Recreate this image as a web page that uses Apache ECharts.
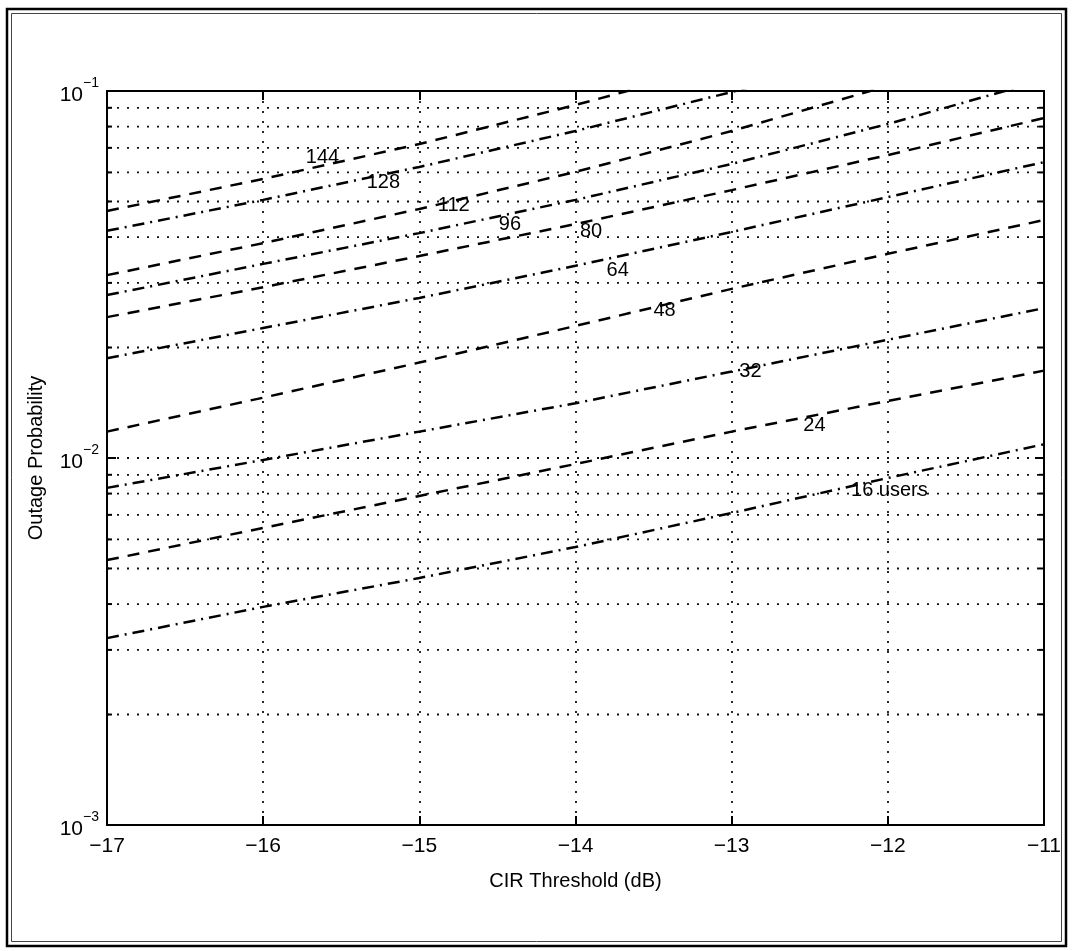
<!DOCTYPE html>
<html>
<head>
<meta charset="utf-8">
<title>Outage Probability vs CIR Threshold</title>
<script src="https://cdn.jsdelivr.net/npm/echarts@6/dist/echarts.min.js"></script>
<style>
html, body { margin: 0; padding: 0; background: #fff; }
#chart { width: 1073px; height: 951px; }
</style>
</head>
<body>
<div id="chart"></div>
<script>
"use strict";
// CIR threshold (dB), one point per grid line
var cirThreshold = [-17, -16, -15, -14, -13, -12, -11];

// outage probability, one array per number of users
var users144 = [0.0471, 0.0576, 0.0717, 0.0916, 0.1192];
var users128 = [0.0416, 0.0505, 0.0621, 0.0778, 0.0994, 0.1285];
var users112 = [0.0315, 0.0385, 0.0477, 0.0602, 0.0778, 0.1032, 0.1403];
var users96  = [0.0278, 0.0338, 0.0410, 0.0505, 0.0633, 0.0813, 0.1072];
var users80  = [0.0242, 0.0292, 0.0355, 0.0434, 0.0537, 0.0669, 0.0844];
var users64  = [0.0187, 0.0226, 0.0273, 0.0334, 0.0413, 0.0514, 0.0640];
var users48  = [0.0118, 0.0146, 0.0182, 0.0229, 0.0289, 0.0360, 0.0445];
var users32  = [0.00829, 0.00988, 0.0118, 0.0141, 0.0172, 0.0210, 0.0256];
var users24  = [0.00527, 0.00645, 0.00788, 0.00963, 0.0118, 0.0143, 0.0173];
var users16  = [0.00323, 0.00393, 0.00471, 0.00572, 0.00708, 0.00882, 0.0109];

var curveValues = [users144, users128, users112, users96, users80,
                   users64, users48, users32, users24, users16];

// in-plot labels (text, position in data units)
var labelText = ['144', '128', '112', '96', '80', '64', '48', '32', '24', '16 users'];
var labelX = [-15.62, -15.23, -14.78, -14.42, -13.90, -13.73, -13.43, -12.88, -12.47, -11.99];
var labelY = [0.0657, 0.0562, 0.0489, 0.0434, 0.0413, 0.0325, 0.0252, 0.0172, 0.0123, 0.00818];

// dotted horizontal grid at the minor decades
var yMinorGrid = [0.002, 0.003, 0.004, 0.005, 0.006, 0.007, 0.008, 0.009,
                  0.02, 0.03, 0.04, 0.05, 0.06, 0.07, 0.08, 0.09];

var FONT = '"Liberation Sans", Arial, Helvetica, sans-serif';
var DOTS = [2, 8];

function minusLabel(v) {
	return (v < 0 ? '\u2212' : '') + Math.abs(v);
}

function powerLabel(v) {
	var e = Math.round(Math.log(v) / Math.LN10);
	return '{b|10}{s|' + minusLabel(e) + '}';
}

var series = curveValues.map(function(vals, i) {
	return {
		type: 'line',
		name: labelText[i],
		data: vals.map(function(v, k) { return [cirThreshold[k], v]; }),
		showSymbol: false,
		symbol: 'none',
		clip: true,
		z: 4,
		lineStyle: {
			color: '#000',
			width: 2.5,
			type: i % 2 === 0 ? [12, 9] : [12, 6, 2, 6]
		}
	};
});

// minor grid lines plus their short ticks on both sides
series.push({
	type: 'custom',
	z: 1,
	silent: true,
	data: yMinorGrid.map(function(v) { return [cirThreshold[0], v]; }),
	renderItem: function(params, api) {
		var cs = params.coordSys;
		var y = api.coord([api.value(0), api.value(1)])[1];
		var x0 = cs.x, x1 = cs.x + cs.width;
		return {
			type: 'group',
			children: [{
				type: 'line',
				shape: { x1: x0, y1: y, x2: x1, y2: y },
				style: { stroke: '#111', lineWidth: 1.8, lineDash: DOTS }
			}, {
				type: 'line',
				shape: { x1: x0, y1: y, x2: x0 + 5, y2: y },
				style: { stroke: '#000', lineWidth: 2 }
			}, {
				type: 'line',
				shape: { x1: x1 - 5, y1: y, x2: x1, y2: y },
				style: { stroke: '#000', lineWidth: 2 }
			}]
		};
	}
});

// curve labels, drawn as plain text at their data position
series.push({
	type: 'custom',
	z: 5,
	silent: true,
	data: labelText.map(function(t, i) { return [labelX[i], labelY[i]]; }),
	renderItem: function(params, api) {
		var p = api.coord([api.value(0), api.value(1)]);
		return {
			type: 'text',
			x: p[0],
			y: p[1],
			style: {
				text: labelText[params.dataIndex],
				fill: '#000',
				font: '20px ' + FONT,
				align: 'center',
				verticalAlign: 'middle'
			}
		};
	}
});

var axisLine = { show: true, lineStyle: { color: '#000', width: 2 } };
var tickIn = { show: true, inside: true, length: 9, lineStyle: { color: '#000', width: 2 } };
var dotSplit = { show: true, lineStyle: { color: '#111', width: 1.8, type: DOTS } };

var option = {
	backgroundColor: '#fff',
	animation: false,
	textStyle: { fontFamily: FONT },
	grid: { left: 107, right: 29, top: 91, bottom: 126, outerBoundsMode: 'none' },
	xAxis: [{
		type: 'value',
		min: -17, max: -11, interval: 1,
		position: 'bottom',
		name: 'CIR Threshold (dB)',
		nameLocation: 'middle',
		nameGap: 46,
		nameTextStyle: { fontSize: 20, color: '#000', fontFamily: FONT },
		axisLine: axisLine,
		axisTick: tickIn,
		axisLabel: { fontSize: 21, color: '#000', margin: 11, fontFamily: FONT, formatter: minusLabel },
		splitLine: dotSplit
	}, {
		type: 'value',
		min: -17, max: -11, interval: 1,
		position: 'top',
		axisLine: axisLine,
		axisTick: tickIn,
		axisLabel: { show: false },
		splitLine: { show: false }
	}],
	yAxis: [{
		type: 'log',
		logBase: 10,
		min: 0.001, max: 0.1,
		position: 'left',
		name: 'Outage Probability',
		nameLocation: 'middle',
		nameGap: 61,
		nameTextStyle: { fontSize: 20, color: '#000', fontFamily: FONT },
		axisLine: axisLine,
		axisTick: tickIn,
		axisLabel: {
			margin: 8,
			formatter: powerLabel,
			rich: {
				b: { fontSize: 21, color: '#000', fontFamily: FONT, verticalAlign: 'bottom', lineHeight: 30 },
				s: { fontSize: 14, color: '#000', fontFamily: FONT, verticalAlign: 'top', lineHeight: 14 }
			}
		},
		splitLine: dotSplit
	}, {
		type: 'log',
		logBase: 10,
		min: 0.001, max: 0.1,
		position: 'right',
		axisLine: axisLine,
		axisTick: tickIn,
		axisLabel: { show: false },
		splitLine: { show: false }
	}],
	graphic: [{
		type: 'rect',
		shape: { x: 7, y: 9, width: 1059, height: 937 },
		style: { fill: 'none', stroke: '#000', lineWidth: 2.5 }
	}, {
		type: 'rect',
		shape: { x: 11.5, y: 13.5, width: 1050, height: 928 },
		style: { fill: 'none', stroke: '#444', lineWidth: 1 }
	}],
	series: series
};

var chart = echarts.init(document.getElementById('chart'), null, { renderer: 'canvas' });
chart.setOption(option);
</script>
</body>
</html>
